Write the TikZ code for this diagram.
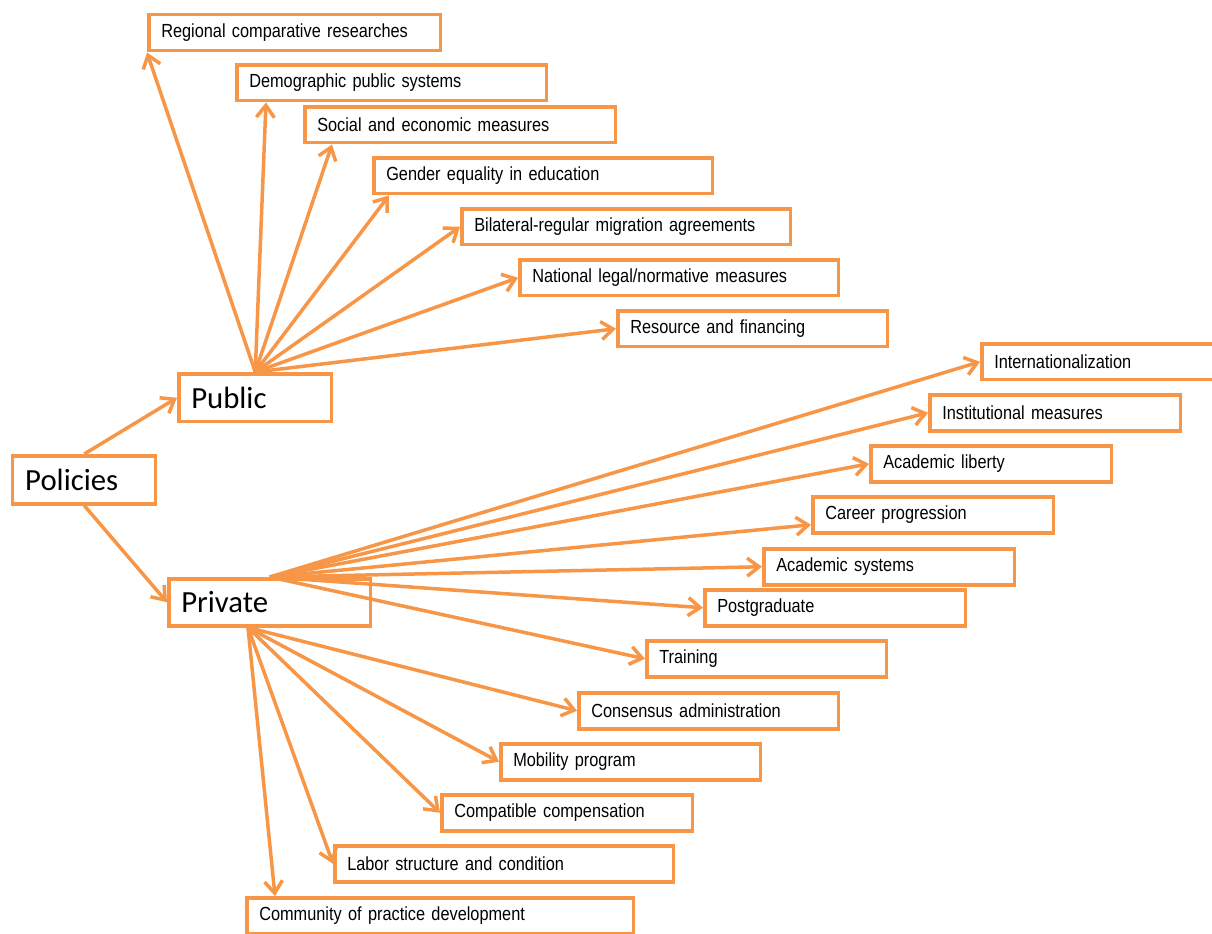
\documentclass[tikz,border=0pt]{standalone}
\usepackage{fontspec}
\usetikzlibrary{arrows.meta}
\newfontfamily\leaffont[FakeStretch=0.86,WordSpace=1.5]{Liberation Sans}
\newfontfamily\rootfont{Carlito}
\definecolor{boxorange}{RGB}{247,150,70}
\tikzset{arrow/.style={-{Straight Barb[length=0.24cm,width=0.36cm]}, draw=boxorange, line width=0.07cm}}
\tikzset{leaf/.style={draw=boxorange, line width=0.07cm, anchor=north west, inner xsep=0.25cm, inner ysep=0pt, minimum height=0.72cm, align=left, font=\leaffont\fontsize{10.8}{13}\selectfont}}
\tikzset{root/.style={leaf, minimum height=0.96cm, font=\rootfont\fontsize{17.5}{21}\selectfont}}

\begin{document}
\begin{tikzpicture}[x=0.02cm, y=-0.02cm]
      \useasboundingbox (0,0) rectangle (1212,933);

      \node[root, text width=2.36cm] (pol) at (11,454) {Policies};
      \node[root, text width=2.56cm] (pub) at (177,372) {Public};
      \node[root, text width=3.54cm, minimum height=0.94cm] (priv) at (167,577) {Private};

      % public side
      \node[leaf, text width=5.34cm] (reg) at (147,13) {Regional comparative researches};
      \node[leaf, text width=5.70cm] (demo) at (235,63) {Demographic public systems};
      \node[leaf, text width=5.72cm] (soc) at (303,105) {Social and economic measures};
      \node[leaf, text width=6.28cm] (gen) at (372,156) {Gender equality in education};
      \node[leaf, text width=6.08cm] (bil) at (460,207) {Bilateral-regular migration agreements};
      \node[leaf, text width=5.88cm] (nat) at (518,258) {National legal/normative measures};
      \node[leaf, text width=4.90cm] (res) at (616,309) {Resource and financing};

      % private side
      \node[leaf, text width=4.64cm] (intl) at (980,342) {Internationalization};
      \node[leaf, text width=4.52cm] (inst) at (928,393) {Institutional measures};
      \node[leaf, text width=4.32cm] (alib) at (869,444) {Academic liberty};
      \node[leaf, text width=4.32cm] (car) at (811,495) {Career progression};
      \node[leaf, text width=4.52cm] (asys) at (762,547) {Academic systems};
      \node[leaf, text width=4.72cm] (pg) at (703,588) {Postgraduate};
      \node[leaf, text width=4.30cm] (tr) at (645,639) {Training};
      \node[leaf, text width=4.70cm] (cons) at (577,691) {Consensus administration};
      \node[leaf, text width=4.70cm] (mob) at (499,742) {Mobility program};
      \node[leaf, text width=4.52cm] (comp) at (440,793) {Compatible compensation};
      \node[leaf, text width=6.28cm] (lab) at (333,844) {Labor structure and condition};
      \node[leaf, text width=7.24cm] (com) at (245,896) {Community of practice development};

      \coordinate (privlow) at ([xshift=1.62cm]priv.south west);

      \draw[arrow] (pol.north) -- (pub.west);
      \draw[arrow] (pol.south) -- (priv.west);

      \draw[arrow] (pub.north) -- (reg.south west);
      \draw[arrow] (pub.north) -- ([xshift=0.62cm]demo.south west);
      \draw[arrow] (pub.north) -- ([xshift=0.58cm]soc.south west);
      \draw[arrow] (pub.north) -- ([xshift=0.34cm]gen.south west);
      \draw[arrow] (pub.north) -- (bil.west);
      \draw[arrow] (pub.north) -- (nat.west);
      \draw[arrow] (pub.north) -- (res.west);

      \draw[arrow] (priv.north) -- (intl.west);
      \draw[arrow] (priv.north) -- (inst.west);
      \draw[arrow] (priv.north) -- (alib.west);
      \draw[arrow] (priv.north) -- ([yshift=-0.2cm]car.west);
      \draw[arrow] (priv.north) -- (asys.west);
      \draw[arrow] (priv.north) -- (pg.west);
      \draw[arrow] (priv.north) -- (tr.west);

      \draw[arrow] (privlow) -- (cons.west);
      \draw[arrow] (privlow) -- (mob.west);
      \draw[arrow] (privlow) -- (comp.west);
      \draw[arrow] (privlow) -- (lab.west);
      \draw[arrow] (privlow) -- ([xshift=0.6cm]com.north west);
    \end{tikzpicture}
\end{document}
